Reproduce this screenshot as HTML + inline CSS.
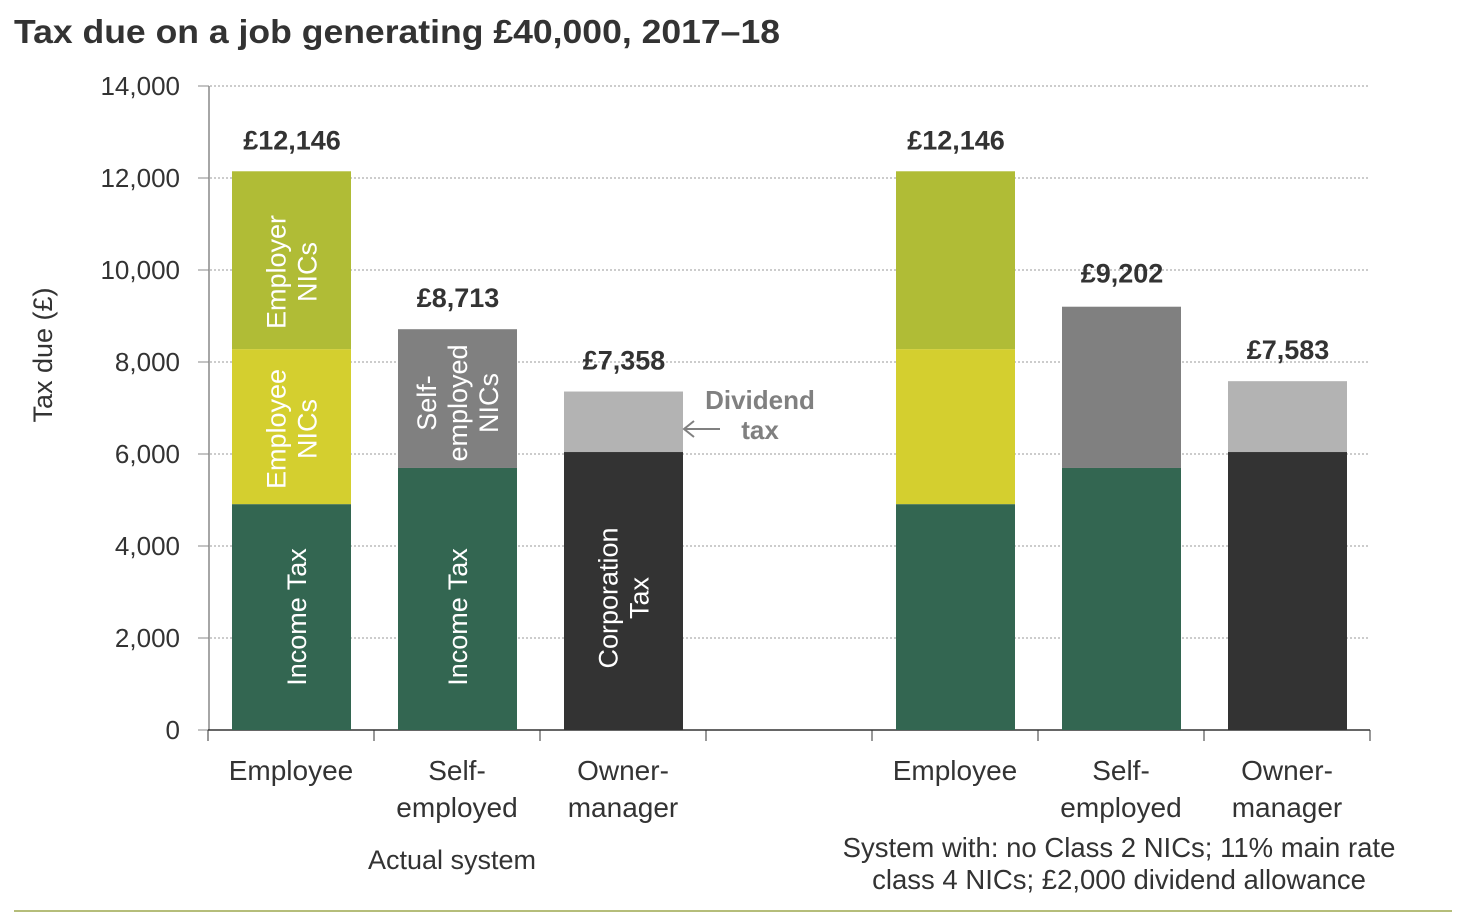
<!DOCTYPE html>
<html><head><meta charset="utf-8"><style>
body{margin:0;background:#fff;font-family:"Liberation Sans",sans-serif;}
svg{display:block}
</style></head><body>
<svg id="c" width="1460" height="924" xmlns="http://www.w3.org/2000/svg">
<text x="14" y="43" font-size="33" font-weight="bold" fill="#333" textLength="766" lengthAdjust="spacingAndGlyphs">Tax due on a job generating £40,000, 2017–18</text>
<text transform="translate(52,355) rotate(-90)" text-anchor="middle" font-size="27" fill="#333">Tax due (£)</text>
<g id="grid"></g><g id="bars"></g><g id="labels"></g>
<line x1="14" y1="911" x2="1452" y2="911" stroke="#b5bd7a" stroke-width="2"/>
</svg>
<script>
const categories=["Employee","Self-employed","Owner-manager","","Employee","Self-employed","Owner-manager"];
const incomeTax=[4910,5696,0,null,4910,5696,0];
const employeeNics=[3370,0,0,null,3370,0,0];
const employerNics=[3866,0,0,null,3866,0,0];
const selfEmpNics=[0,3017,0,null,0,3506,0];
const corpTax=[0,0,6043,null,0,0,6043];
const dividendTax=[0,0,1315,null,0,0,1540];
const totals=["£12,146","£8,713","£7,358","","£12,146","£9,202","£7,583"];
const yTicks=[0,2000,4000,6000,8000,10000,12000,14000];
const NS="http://www.w3.org/2000/svg";
const y=v=>730-v*644/14000;
const slotX=i=>208+i*166;
function el(t,a,p,txt){const e=document.createElementNS(NS,t);for(const k in a)e.setAttribute(k,a[k]);if(txt!=null)e.textContent=txt;document.getElementById(p).appendChild(e);return e;}
yTicks.forEach(t=>{
  if(t>0){const g=el('line',{x1:198,x2:1370,y1:y(t),y2:y(t),stroke:'#999','stroke-dasharray':'2,2'},'grid');
  
  }
  const tk=el('line',{x1:198,x2:209,y1:y(t),y2:y(t),stroke:'#888'},'grid');
  
  
  const l=el('text',{x:180,y:y(t)+9,'text-anchor':'end','font-size':26,fill:'#333'},'labels',t.toLocaleString('en-US'));
  
  
});
const ax=el('line',{x1:209,x2:209,y1:86,y2:730,stroke:'#888','stroke-width':1.5},'grid');


const bx=el('line',{x1:208,x2:1370,y1:730,y2:730,stroke:'#333','stroke-width':1.5},'grid');


for(let i=0;i<=7;i++){const t=el('line',{x1:slotX(i),x2:slotX(i),y1:730,y2:741,stroke:'#333'},'grid');

}
const series=[[incomeTax,'#336651','income-tax'],[employeeNics,'#d4cf2f','employee-nics'],[selfEmpNics,'#808080','self-employed-nics'],[corpTax,'#333333','corporation-tax'],[employerNics,'#b0bc36','employer-nics'],[dividendTax,'#b3b3b3','dividend-tax']];
categories.forEach((c,i)=>{
  if(incomeTax[i]==null)return;
  let base=0;const x=slotX(i)+24;
  series.forEach(([arr,col,nm])=>{const v=arr[i];if(!v)return;
    const r=el('rect',{x:x,y:y(base+v),width:119,height:y(base)-y(base+v),fill:col},'bars');
    
    
    base+=v;});
  const tl=el('text',{x:x+60,y:Math.min(y(base)-22,y(base))+(base>9000&&base<10000?-2:0),'text-anchor':'middle','font-size':27,'font-weight':'bold',fill:'#333'},'labels',totals[i]);
  
  
  const parts=c==="Employee"?["Employee"]:c==="Self-employed"?["Self-","employed"]:["Owner-","manager"];
  parts.forEach((p,k)=>{const t=el('text',{x:slotX(i)+83,y:780+k*37,'text-anchor':'middle','font-size':28,fill:'#333'},'labels',p);
    
    });
});
function vlab(cx,cy,lines,nm){const g=el('text',{transform:`translate(${cx},${cy}) rotate(-90)`,'text-anchor':'middle','font-size':27,fill:'#fff'},'labels');
  
  
  lines.forEach((l,k)=>{const s=document.createElementNS(NS,'tspan');s.setAttribute('x',0);s.setAttribute('y',(k-(lines.length-1)/2)*31+9);s.textContent=l;g.appendChild(s);});}
vlab(292,272,["Employer","NICs"],'label-employer-nics');
vlab(292,429,["Employee","NICs"],'label-employee-nics');
vlab(297,617,["Income Tax"],'label-income-tax');
vlab(458,403,["Self-","employed","NICs"],'label-self-employed-nics');
vlab(458,617,["Income Tax"],'label-income-tax-se');
vlab(624,598,["Corporation","Tax"],'label-corporation-tax');
const d1=el('text',{x:760,y:409,'text-anchor':'middle','font-size':26,'font-weight':'bold',fill:'#808080'},'labels','Dividend');


const d2=el('text',{x:760,y:439,'text-anchor':'middle','font-size':26,'font-weight':'bold',fill:'#808080'},'labels','tax');


const ar=el('path',{d:'M720,429 H684 M694,421 L684,429 L694,437',stroke:'#808080','stroke-width':2,fill:'none'},'labels');


const g1=el('text',{x:452,y:869,'text-anchor':'middle','font-size':27,fill:'#333'},'labels','Actual system');


const g2=el('text',{x:1119,y:857,'text-anchor':'middle','font-size':27.5,fill:'#333'},'labels','System with: no Class 2 NICs; 11% main rate');


const g3=el('text',{x:1119,y:889,'text-anchor':'middle','font-size':27.5,fill:'#333'},'labels','class 4 NICs; £2,000 dividend allowance');


</script>
</body></html>
